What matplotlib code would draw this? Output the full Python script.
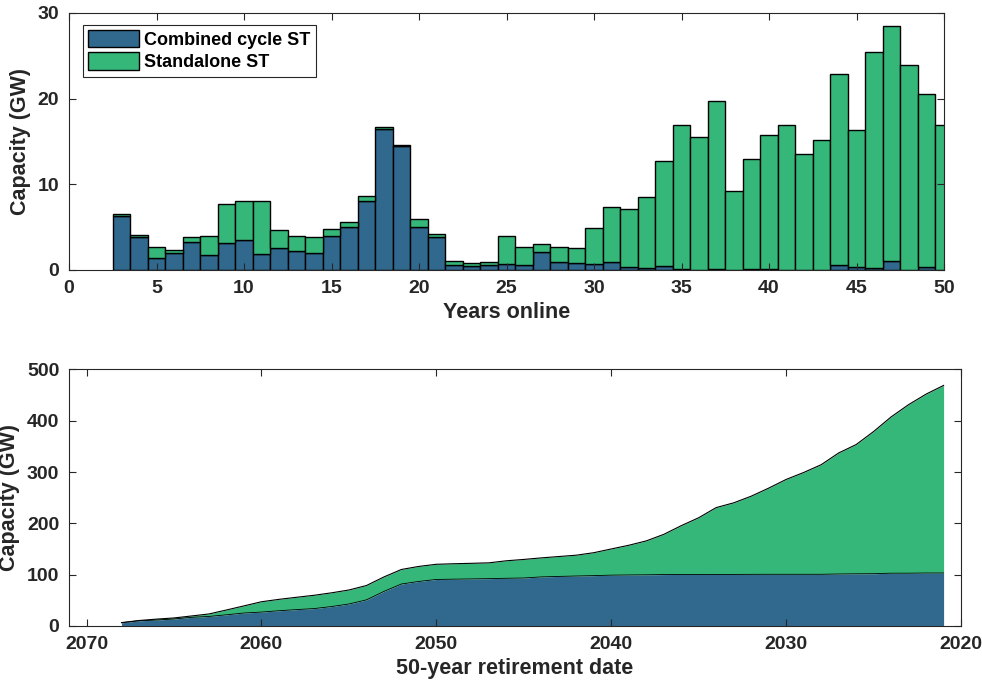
import numpy as np
import matplotlib
matplotlib.use("Agg")
import matplotlib.pyplot as plt

plt.rcParams['font.family'] = ['Liberation Sans', 'DejaVu Sans']
plt.rcParams['font.weight'] = 'bold'

years_online = list(range(3, 51))
combined_cycle = [6.3, 3.85, 1.44, 2.02, 3.22, 1.75, 3.19, 3.5, 1.82, 2.6,
                  2.2, 1.98, 3.97, 5.02, 8.0, 16.46, 14.47, 5.02, 3.85, 0.58,
                  0.5, 0.54, 0.7, 0.58, 2.1, 0.93, 0.82, 0.74, 0.93, 0.39,
                  0.27, 0.5, 0.15, 0.0, 0.1, 0.0, 0.15, 0.1, 0.0, 0.0,
                  0.0, 0.58, 0.35, 0.23, 1.0, 0.0, 0.35, 0.0]
total = [6.54, 4.08, 2.72, 2.29, 3.85, 3.93, 7.74, 8.0, 8.05, 4.7,
         4.0, 3.89, 4.78, 5.56, 8.67, 16.73, 14.59, 5.99, 4.16, 1.05,
         0.82, 0.93, 4.0, 2.64, 3.03, 2.64, 2.6, 4.86, 7.31, 7.16,
         8.52, 12.72, 16.96, 15.52, 19.76, 9.26, 12.95, 15.75, 16.92, 13.54,
         15.17, 22.88, 16.38, 25.45, 28.48, 23.93, 20.54, 16.92]
standalone = [t - c for t, c in zip(total, combined_cycle)]
base_year = 2071
retire_year = [base_year - y for y in years_online]

C_CC = '#31688E'
C_SA = '#35B779'
AX = '#262626'

fig = plt.figure(figsize=(9.82, 6.9), dpi=100)
ax1 = fig.add_axes([0.0703, 0.6087, 0.891, 0.3725])
ax2 = fig.add_axes([0.0703, 0.0928, 0.9084, 0.3717])

x = np.array(years_online)
cc = np.array(combined_cycle)
sa = np.array(standalone)
ax1.bar(x, cc, width=1.0, color=C_CC, edgecolor='black', linewidth=1.0, label='Combined cycle ST')
ax1.bar(x, sa, width=1.0, bottom=cc, color=C_SA, edgecolor='black', linewidth=1.0, label='Standalone ST')
ax1.set_xlim(0, 50)
ax1.set_ylim(0, 30)
ax1.set_xticks(range(0, 51, 5))
ax1.set_yticks([0, 10, 20, 30])
ax1.set_xlabel('Years online', fontsize=15.5, fontweight='bold', color=AX, labelpad=4)
ax1.set_ylabel('Capacity (GW)', fontsize=15.5, fontweight='bold', color=AX, labelpad=5)
leg = ax1.legend(loc='upper left', fontsize=13, frameon=True, fancybox=False,
                 edgecolor='#262626', framealpha=1, borderpad=0.3, handlelength=2.8,
                 handleheight=1.1, labelspacing=0.2, handletextpad=0.3,
                 bbox_to_anchor=(0.016, 0.955), borderaxespad=0.0)
leg.get_frame().set_linewidth(0.8)
for t in leg.get_texts():
    t.set_color('black')

ry = np.array(retire_year)
cum_cc = np.cumsum(cc)
cum_tot = np.cumsum(np.array(total))
ax2.fill_between(ry, 0, cum_cc, color=C_CC, linewidth=0)
ax2.fill_between(ry, cum_cc, cum_tot, color=C_SA, linewidth=0)
ax2.plot(ry, cum_cc, color='black', linewidth=0.6)
ax2.plot(ry, cum_tot, color='black', linewidth=0.8)
ax2.set_xlim(2071, 2020)
ax2.set_ylim(0, 500)
ax2.set_xticks([2070, 2060, 2050, 2040, 2030, 2020])
ax2.set_yticks(range(0, 501, 100))
ax2.set_xlabel('50-year retirement date', fontsize=15.5, fontweight='bold', color=AX, labelpad=4)
ax2.set_ylabel('Capacity (GW)', fontsize=15.5, fontweight='bold', color=AX, labelpad=5)

for ax in (ax1, ax2):
    ax.tick_params(direction='in', top=True, right=True, length=5, width=0.8,
                   colors=AX, labelsize=14, pad=7)
    for lab in ax.get_xticklabels() + ax.get_yticklabels():
        lab.set_fontweight('bold')
    for s in ax.spines.values():
        s.set_color(AX)
        s.set_linewidth(0.8)
    ax.set_axisbelow(False)

fig.savefig('out.png', dpi=100, facecolor='white')
